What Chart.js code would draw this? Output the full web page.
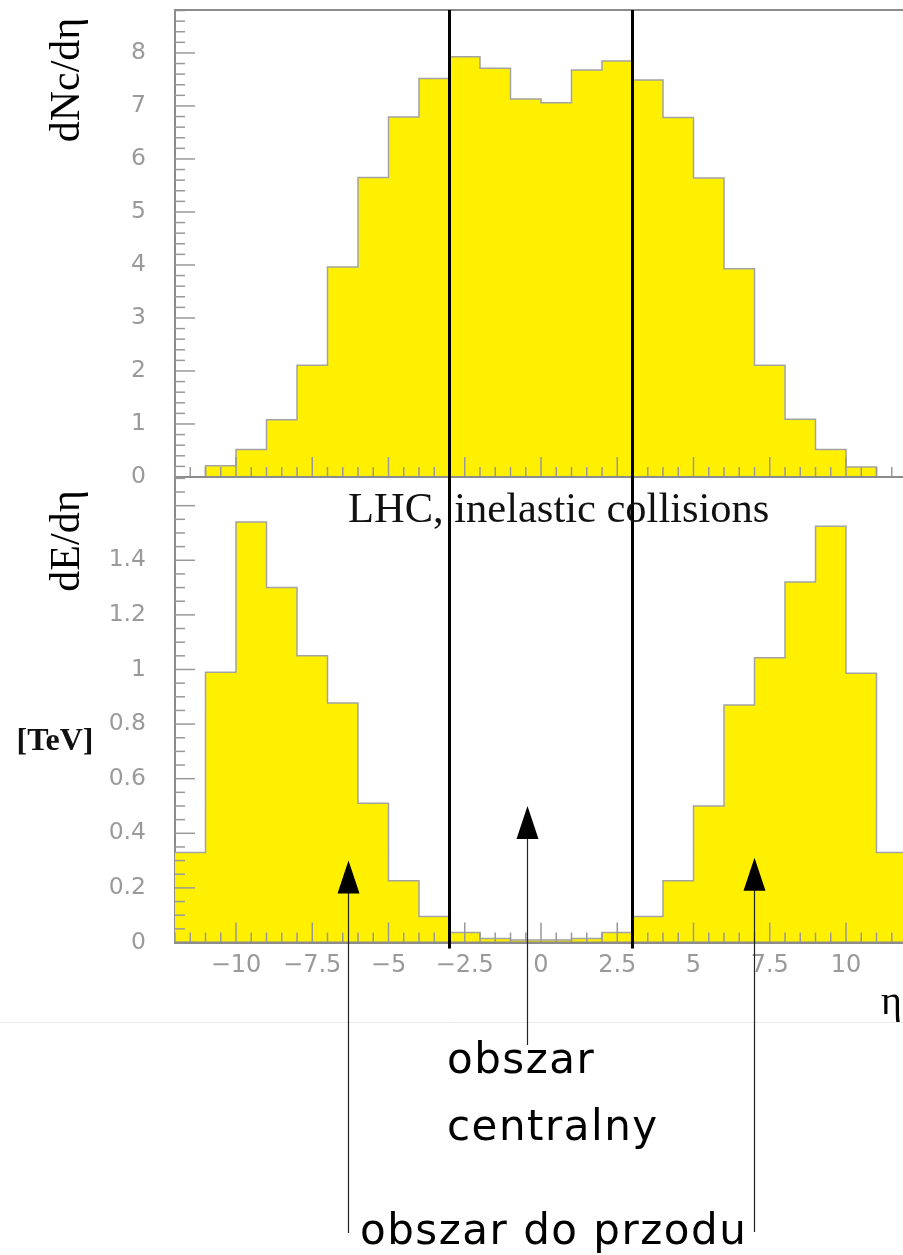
<!DOCTYPE html>
<html><head><meta charset="utf-8">
<script src="https://cdn.jsdelivr.net/npm/chart.js@4/dist/chart.umd.min.js"></script>
<style>
html,body{margin:0;padding:0;background:#fff;overflow:hidden;width:903px;height:1255px;}
#wrap{position:relative;width:903px;height:1255px;overflow:hidden;background:#fff;}
canvas{position:absolute;left:0;top:0;}
</style></head><body>
<div id="wrap"><canvas id="cTop"></canvas><canvas id="cBot"></canvas></div>
<script>
// ---------- DATA ----------
const binEdges = [-12,-11,-10,-9,-8,-7,-6,-5,-4,-3,-2,-1,0,1,2,3,4,5,6,7,8,9,10,11,12];
const dNcdEta = [0,0.21,0.52,1.08,2.11,3.96,5.65,6.79,7.52,7.93,7.71,7.13,7.06,7.68,7.85,7.49,6.78,5.64,3.93,2.11,1.09,0.52,0.19,0];
const dEdEta  = [0.33,0.99,1.54,1.30,1.05,0.877,0.51,0.226,0.095,0.037,0.015,0.009,0.009,0.015,0.037,0.095,0.226,0.50,0.87,1.043,1.32,1.525,0.986,0.33];
const topYTicks = [0,1,2,3,4,5,6,7,8];
const topYTickLabels = ['0','1','2','3','4','5','6','7','8'];
const botYTicks = [0,0.2,0.4,0.6,0.8,1,1.2,1.4];
const botYTickLabels = ['0','0.2','0.4','0.6','0.8','1','1.2','1.4'];
const xTicks = [-10,-7.5,-5,-2.5,0,2.5,5,7.5,10];
const xTickLabels = ['\u221210','\u22127.5','\u22125','\u22122.5','0','2.5','5','7.5','10'];
const centralBounds = [-3, 3];
const arrowEta = [-6.34, -0.46, 6.98];
const arrowTipVal = [0.30, 0.50, 0.31];

// ---------- STYLE / LAYOUT ----------
const W = 907, H = 1255;
const YELLOW = '#FFF000';
const AXIS = '#8c8c8c';
const TICKLBL = '#9a9a9a';
const arrowShaftEnd = [1233, 1045, 1232];

function histPoints(vals){
  return binEdges.map((x,i)=>({x:x, y:vals[Math.min(i, vals.length-1)]}));
}
function setup(id){
  const c = document.getElementById(id);
  c.width = W; c.height = H; c.style.width = W+'px'; c.style.height = H+'px';
  return c;
}
function line(ctx,x1,y1,x2,y2){ctx.beginPath();ctx.moveTo(x1,y1);ctx.lineTo(x2,y2);ctx.stroke();}

function rootTicksPlugin(cfg){
  return {
    id:'rootTicks_'+cfg.name,
    afterDatasetsDraw(chart){
      const ctx = chart.ctx, ca = chart.chartArea, xs = chart.scales.x, ys = chart.scales.y;
      ctx.save();
      ctx.lineWidth = 1.5;
      ctx.strokeStyle = '#999';
      for (let k=0; k*cfg.yMinor <= ys.max + 1e-9; k++){
        const v = k*cfg.yMinor;
        const major = (k % cfg.yPerMajor) === 0;
        const py = ys.getPixelForValue(v);
        line(ctx, ca.left, py, ca.left + (major?20:10), py);
      }
      for (let k=0; -12 + k*0.5 <= 12 + 1e-9; k++){
        const v = -12 + k*0.5;
        const major = Math.abs(v/2.5 - Math.round(v/2.5)) < 1e-9;
        const px = xs.getPixelForValue(v);
        line(ctx, px, ca.bottom, px, ca.bottom - (major?20:10));
      }
      ctx.strokeStyle = AXIS; ctx.lineWidth = 2;
      line(ctx, ca.left, ca.bottom, W, ca.bottom);
      if (cfg.topFrame) line(ctx, ca.left, ca.top, W, ca.top);
      ctx.strokeStyle = '#000'; ctx.lineWidth = 3;
      for (const b of centralBounds){
        const px = xs.getPixelForValue(b);
        line(ctx, px, ca.top, px, ca.bottom + cfg.lineExtra);
      }
      ctx.restore();
    }
  };
}

function rotText(ctx, txt, x, y, font){
  ctx.save(); ctx.translate(x,y); ctx.rotate(-Math.PI/2);
  ctx.font = font; ctx.textAlign='center'; ctx.textBaseline='middle'; ctx.fillStyle='#000';
  ctx.fillText(txt,0,0); ctx.restore();
}

const topTitles = {
  id:'topTitles',
  afterDraw(chart){
    rotText(chart.ctx, 'dNc/d\u03b7', 68, 80, '42px "Liberation Serif"');
  }
};

const annotations = {
  id:'annotations',
  afterDraw(chart){
    const ctx = chart.ctx, xs = chart.scales.x, ys = chart.scales.y;
    ctx.save();
    rotText(ctx, 'dE/d\u03b7', 68, 541, '42px "Liberation Serif"');
    ctx.font = 'bold 32px "Liberation Serif"'; ctx.fillStyle='#111'; ctx.textAlign='center'; ctx.textBaseline='middle';
    ctx.fillText('[TeV]', 55, 742);
    ctx.font = '42.5px "Liberation Serif"'; ctx.textAlign='left'; ctx.textBaseline='alphabetic'; ctx.fillStyle='#111';
    ctx.fillText('LHC, inelastic collisions', 348, 522);
    ctx.font = '40px "Liberation Serif"'; ctx.textAlign='right'; ctx.fillStyle='#000';
    ctx.fillText('\u03b7', 902, 1014);
    ctx.strokeStyle = '#ececec'; ctx.lineWidth = 1;
    line(ctx, 0, 1022.5, W, 1022.5);
    for (let i=0;i<arrowEta.length;i++){
      const px = Math.round(xs.getPixelForValue(arrowEta[i])) + 0.5;
      const tip = ys.getPixelForValue(arrowTipVal[i]);
      ctx.strokeStyle = '#222'; ctx.lineWidth = 1.2;
      line(ctx, px, tip + 30, px, arrowShaftEnd[i]);
      ctx.fillStyle = '#000';
      ctx.beginPath(); ctx.moveTo(px, tip); ctx.lineTo(px-11, tip+33); ctx.lineTo(px+11, tip+33); ctx.closePath(); ctx.fill();
    }
    ctx.fillStyle = '#000'; ctx.textAlign='left'; ctx.textBaseline='alphabetic';
    ctx.font = '42px "DejaVu Sans"';
    try { ctx.letterSpacing = '1.5px'; } catch(e){}
    ctx.fillText('obszar', 447, 1073);
    ctx.fillText('centralny', 447, 1140);
    ctx.fillText('obszar do przodu', 360, 1244);
    ctx.restore();
  }
};

Chart.defaults.font.family = '"DejaVu Sans"';

const baseOpts = {
  responsive:false, animation:false, devicePixelRatio:1,
  plugins:{legend:{display:false}, tooltip:{enabled:false}}
};

function ds(vals){
  return {data:histPoints(vals), stepped:'before', fill:'origin', backgroundColor:YELLOW,
          borderColor:'#a3a3a3', borderWidth:1.5, pointRadius:0, tension:0};
}
function yFit(s){ s.width = 175; s.paddingTop = 0; s.paddingBottom = 0; }

new Chart(setup('cTop'), {
  type:'line',
  data:{datasets:[ds(dNcdEta)]},
  options:Object.assign({}, baseOpts, {
    layout:{padding:{top:10, bottom:H-477, left:0, right:0}},
    scales:{
      x:{type:'linear', min:-12, max:12, display:false},
      y:{type:'linear', min:0, max:8.81, position:'left',
         afterFit: yFit,
         afterBuildTicks(s){ s.ticks = topYTicks.map(v=>({value:v})); },
         ticks:{color:TICKLBL, font:{family:'"DejaVu Sans"', size:23.5}, padding:29, autoSkip:false,
                callback:(v,i)=>topYTickLabels[i]},
         grid:{drawOnChartArea:false, drawTicks:false},
         border:{display:true, color:AXIS, width:2}}
    }
  }),
  plugins:[rootTicksPlugin({name:'top', yMinor:0.2, yPerMajor:5, topFrame:true, lineExtra:0}), topTitles]
});

new Chart(setup('cBot'), {
  type:'line',
  data:{datasets:[ds(dEdEta)]},
  options:Object.assign({}, baseOpts, {
    layout:{padding:{top:477, bottom:H-942.5-50, left:0, right:0}},
    scales:{
      x:{type:'linear', min:-12, max:12, position:'bottom',
         afterFit(s){ s.height = 50; s.paddingLeft = 0; s.paddingRight = 0; },
         afterBuildTicks(s){ s.ticks = xTicks.map(v=>({value:v})); },
         ticks:{color:TICKLBL, font:{family:'"DejaVu Sans"', size:24}, padding:9, autoSkip:false, maxRotation:0,
                callback:(v,i)=>xTickLabels[i]},
         grid:{drawOnChartArea:false, drawTicks:false},
         border:{display:true, color:AXIS, width:2}},
      y:{type:'linear', min:0, max:1.705, position:'left',
         afterFit: yFit,
         afterBuildTicks(s){ s.ticks = botYTicks.map(v=>({value:v})); },
         ticks:{color:TICKLBL, font:{family:'"DejaVu Sans"', size:23.5}, padding:29, autoSkip:false,
                callback:(v,i)=>botYTickLabels[i]},
         grid:{drawOnChartArea:false, drawTicks:false},
         border:{display:true, color:AXIS, width:2}}
    }
  }),
  plugins:[rootTicksPlugin({name:'bot', yMinor:0.05, yPerMajor:4, topFrame:false, lineExtra:6}), annotations]
});
</script>
</body></html>
